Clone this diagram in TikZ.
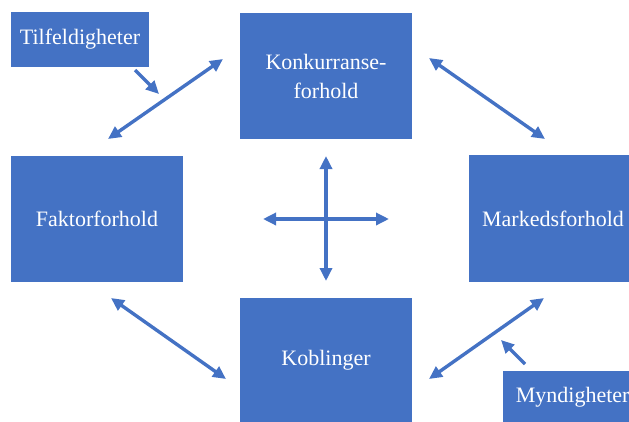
\documentclass[tikz,border=0pt]{standalone}
\usepackage{fontspec}
\setmainfont{Liberation Serif}
\usetikzlibrary{arrows.meta}
\definecolor{boxblue}{HTML}{4472C4}
\begin{document}
\begin{tikzpicture}[x=1pt,y=-1pt,
  box/.style={fill=boxblue, draw=none, text=white, inner sep=0pt, align=center,
    font=\fontsize{22}{29}\selectfont},
  link/.style={draw=boxblue, line width=3.4pt, {Triangle[length=13pt,width=12pt]}-{Triangle[length=13pt,width=12pt]}},
  push/.style={draw=boxblue, line width=3.4pt, -{Triangle[length=13pt,width=12pt]}}]
  \useasboundingbox (0,0) rectangle (629,421);
  \clip (0,0) rectangle (629,421);
  % boxes
  \node[box, minimum width=138pt, minimum height=55pt] (tilf) at (80,39.5) {Tilfeldigheter};
  \node[box, minimum width=172pt, minimum height=126pt] (konk) at (326,76) {Konkurranse-\\forhold};
  \node[box, minimum width=172pt, minimum height=126pt] (fakt) at (97,219) {Faktorforhold};
  \node[box, minimum width=168pt, minimum height=127pt] (mark) at (553,218.5) {Markedsforhold};
  \node[box, minimum width=172pt, minimum height=124pt] (kobl) at (326,360) {Koblinger};
  \node[box, minimum width=132pt, minimum height=52pt, anchor=west] (mynd) at (503,397) {\hspace*{7pt}Myndigheter};
  % free ends of the connectors
  \coordinate (fk1) at (108,139);  \coordinate (fk2) at (223,59);
  \coordinate (km1) at (429,58);   \coordinate (km2) at (545,139);
  \coordinate (fb1) at (111,298);  \coordinate (fb2) at (226,379);
  \coordinate (bm1) at (429,379);  \coordinate (bm2) at (544,298);
  \coordinate (tA) at (135,70);    \coordinate (tB) at (159,94);
  \coordinate (mA) at (525,364);   \coordinate (mB) at (501,340);
  \coordinate (cN) at (326,156);   \coordinate (cS) at (326,281);
  \coordinate (cW) at (263,219);   \coordinate (cE) at (389,219);
  % connectors
  \draw[link] (fk1) -- (fk2);
  \draw[link] (km1) -- (km2);
  \draw[link] (fb1) -- (fb2);
  \draw[link] (bm1) -- (bm2);
  \draw[link] (cN) -- (cS);
  \draw[link] (cW) -- (cE);
  \draw[push] (tA) -- (tB);
  \draw[push] (mA) -- (mB);
\end{tikzpicture}
\end{document}
